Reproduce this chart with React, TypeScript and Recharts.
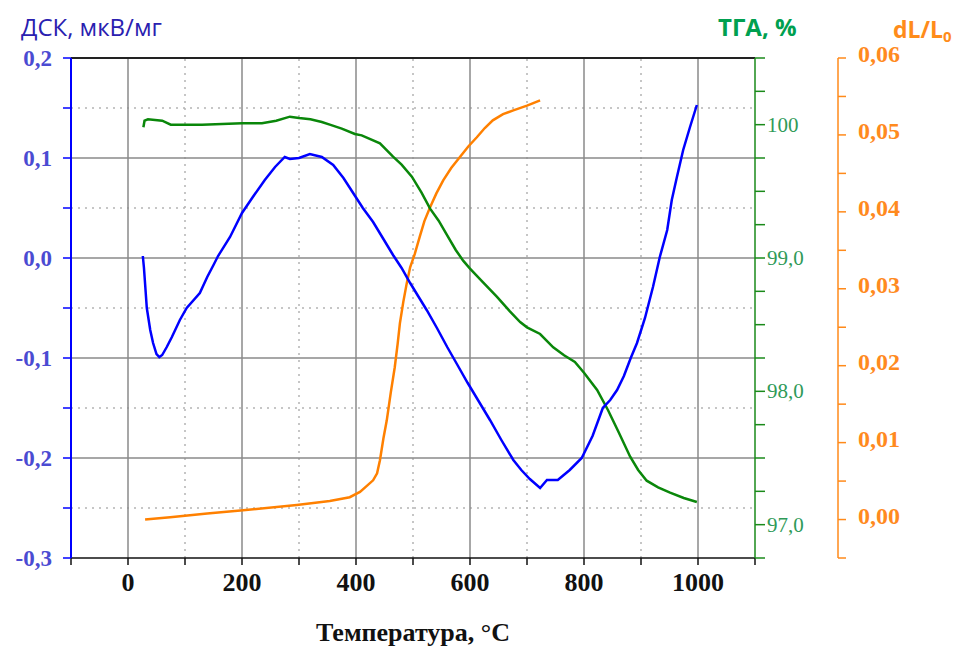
import React from 'react';
import { LineChart, Line, XAxis, YAxis, ReferenceLine } from 'recharts';

// DSC signal, µV/mg
const dscTemp = [26, 28, 30, 33, 39, 44, 50, 55, 60, 68, 77, 91, 103, 126, 139, 150, 158, 179, 200, 219, 240, 258, 275, 284, 300, 319, 340, 360, 378, 395, 412, 430, 447, 465, 480, 495, 510, 524, 542, 560, 578, 596, 615, 635, 655, 676, 690, 705, 723, 735, 754, 775, 796, 815, 833, 846, 858, 870, 882, 893, 907, 921, 933, 946, 954, 963, 974, 986, 998];
const dscValue = [0.002, -0.01, -0.026, -0.05, -0.072, -0.085, -0.096, -0.099, -0.097, -0.089, -0.079, -0.062, -0.05, -0.035, -0.019, -0.007, 0.002, 0.021, 0.045, 0.061, 0.078, 0.091, 0.101, 0.099, 0.1, 0.104, 0.101, 0.093, 0.08, 0.065, 0.05, 0.036, 0.02, 0.003, -0.01, -0.025, -0.039, -0.052, -0.07, -0.089, -0.107, -0.125, -0.143, -0.162, -0.182, -0.202, -0.212, -0.221, -0.23, -0.222, -0.222, -0.212, -0.2, -0.178, -0.15, -0.142, -0.132, -0.118, -0.1, -0.085, -0.06, -0.029, 0.001, 0.028, 0.058, 0.081, 0.108, 0.131, 0.153];

// TGA, mass %
const tgaTemp = [27, 29, 35, 60, 75, 100, 130, 200, 235, 260, 284, 300, 320, 340, 354, 375, 398, 410, 442, 465, 480, 498, 515, 530, 545, 560, 575, 588, 600, 620, 647, 670, 688, 700, 723, 746, 765, 784, 800, 823, 842, 860, 881, 895, 910, 930, 951, 975, 998];
const tgaValue = [99.98, 100.03, 100.04, 100.03, 100.0, 100.0, 100.0, 100.01, 100.01, 100.03, 100.06, 100.05, 100.04, 100.02, 100.0, 99.97, 99.93, 99.92, 99.86, 99.76, 99.7, 99.61, 99.49, 99.37, 99.28, 99.17, 99.06, 98.98, 98.92, 98.83, 98.71, 98.6, 98.52, 98.48, 98.43, 98.33, 98.27, 98.22, 98.14, 98.01, 97.86, 97.7, 97.51, 97.41, 97.33, 97.28, 97.24, 97.2, 97.17];

// dilatometry, dL/L0
const dilTemp = [30, 74, 139, 202, 296, 354, 389, 407, 421, 430, 437, 442, 448, 454, 461, 468, 473, 477, 483, 489, 495, 503, 512, 520, 530, 541, 553, 567, 582, 597, 612, 626, 640, 658, 676, 700, 723];
const dilValue = [0.0, 0.0003, 0.0008, 0.0012, 0.0019, 0.0024, 0.0029, 0.0036, 0.0045, 0.0051, 0.006, 0.0077, 0.0105, 0.0129, 0.0165, 0.0198, 0.0228, 0.0255, 0.0283, 0.0307, 0.0328, 0.0345, 0.0368, 0.0388, 0.0406, 0.0424, 0.0441, 0.0457, 0.0471, 0.0485, 0.0497, 0.0509, 0.0519, 0.0527, 0.0532, 0.0538, 0.0545];

const tempTicks = [-100, 0, 100, 200, 300, 400, 500, 600, 700, 800, 900, 1000, 1100];
const tempLabelValues = [0, 200, 400, 600, 800, 1000];
const tempLabels = ['0', '200', '400', '600', '800', '1000'];

const dscTicks = [-0.3, -0.25, -0.2, -0.15, -0.1, -0.05, 0, 0.05, 0.1, 0.15, 0.2];
const dscLabelValues = [-0.3, -0.2, -0.1, 0, 0.1, 0.2];
const dscLabels = ['-0,3', '-0,2', '-0,1', '0,0', '0,1', '0,2'];

const tgaTicks = [96.75, 97, 97.25, 97.5, 97.75, 98, 98.25, 98.5, 98.75, 99, 99.25, 99.5, 99.75, 100, 100.25, 100.5];
const tgaLabelValues = [97, 98, 99, 100];
const tgaLabels = ['97,0', '98,0', '99,0', '100'];

const dilTicks = [-0.005, 0, 0.005, 0.01, 0.015, 0.02, 0.025, 0.03, 0.035, 0.04, 0.045, 0.05, 0.055, 0.06];
const dilLabelValues = [0, 0.01, 0.02, 0.03, 0.04, 0.05, 0.06];
const dilLabels = ['0,00', '0,01', '0,02', '0,03', '0,04', '0,05', '0,06'];

const gridMajorX = [0, 200, 400, 600, 800, 1000];
const gridMinorX = [100, 300, 500, 700, 900];
const gridMajorY = [0.1, 0, -0.1, -0.2];
const gridMinorY = [0.15, 0.05, -0.05, -0.15, -0.25];

// ends of the temperature range and the top of the DSC range, for the frame line
const frameTemp = [-100, 1100];
const frameTop = 0.2;

const dscData = dscTemp.map((t, i) => ({ t, v: dscValue[i] }));
const tgaData = tgaTemp.map((t, i) => ({ t, v: tgaValue[i] }));
const dilData = dilTemp.map((t, i) => ({ t, v: dilValue[i] }));

const SERIF = '"Liberation Serif", "Times New Roman", serif';
const SANS = '"Open Sans", sans-serif';

function labelTick(values: number[], labels: string[], color: string, size: number, weight: string, dy: number) {
  return (props: any) => {
    const { x, y, payload, textAnchor } = props;
    const idx = values.findIndex(v => Math.abs(v - payload.value) < 1e-9);
    if (idx < 0) return <g />;
    return (
      <text x={x} y={y} dy={dy} textAnchor={textAnchor} fill={color} fontSize={size} fontWeight={weight} fontFamily={SERIF}>
        {labels[idx]}
      </text>
    );
  };
}

export default function App() {
  return (
    <div style={{ position: 'absolute', left: 0, top: 0, width: 957, height: 646, background: '#fff' }}>
      <LineChart width={957} height={646} margin={{ top: 58, right: 39, bottom: 0, left: 0 }}>
        {gridMinorX.map(v => (
          <ReferenceLine key={'mx' + v} x={v} yAxisId="dsc" stroke="#b4b4b4" strokeWidth={1.5} strokeDasharray="2 5" />
        ))}
        {gridMinorY.map(v => (
          <ReferenceLine key={'my' + v} y={v} yAxisId="dsc" stroke="#b4b4b4" strokeWidth={1.5} strokeDasharray="2 5" />
        ))}
        {gridMajorX.map(v => (
          <ReferenceLine key={'gx' + v} x={v} yAxisId="dsc" stroke="#8a8a8a" strokeWidth={1.5} />
        ))}
        {gridMajorY.map(v => (
          <ReferenceLine key={'gy' + v} y={v} yAxisId="dsc" stroke="#8a8a8a" strokeWidth={1.5} />
        ))}
        {/* top frame of the plot area */}
        <ReferenceLine
          yAxisId="dsc"
          segment={[{ x: frameTemp[0], y: frameTop }, { x: frameTemp[1], y: frameTop }]}
          ifOverflow="visible"
          stroke="#222"
          strokeWidth={2}
        />
        <XAxis
          dataKey="t"
          type="number"
          domain={[-100, 1100]}
          ticks={tempTicks}
          interval={0}
          allowDataOverflow
          height={88}
          tickSize={7}
          tickMargin={0}
          stroke="#111"
          strokeWidth={1.5}
          tick={labelTick(tempLabelValues, tempLabels, '#111', 26, 'bold', 26)}
        />
        <YAxis
          yAxisId="dsc"
          orientation="left"
          width={71}
          domain={[-0.3, 0.2]}
          ticks={dscTicks}
          interval={0}
          allowDataOverflow
          tickSize={8}
          tickMargin={11}
          axisLine={{ stroke: '#0000ff', strokeWidth: 2 }}
          tickLine={{ stroke: '#0000ff', strokeWidth: 1.5 }}
          tick={labelTick(dscLabelValues, dscLabels, '#4b4bd2', 23, 'bold', 8)}
        />
        <YAxis
          yAxisId="mass"
          orientation="right"
          width={83}
          domain={[96.75, 100.5]}
          ticks={tgaTicks}
          interval={0}
          allowDataOverflow
          tickSize={10}
          tickMargin={2}
          axisLine={{ stroke: '#1a8a1a', strokeWidth: 1.5 }}
          tickLine={{ stroke: '#1a8a1a', strokeWidth: 1.5 }}
          tick={labelTick(tgaLabelValues, tgaLabels, '#2f9a58', 21, 'normal', 7)}
        />
        <YAxis
          yAxisId="strain"
          orientation="right"
          width={80}
          domain={[-0.005, 0.06]}
          ticks={dilTicks}
          interval={0}
          allowDataOverflow
          tickSize={8}
          tickMargin={12}
          axisLine={{ stroke: '#ff8a1a', strokeWidth: 1.5 }}
          tickLine={{ stroke: '#ff8a1a', strokeWidth: 1.5 }}
          tick={labelTick(dilLabelValues, dilLabels, '#ff8a1e', 24, 'bold', 4)}
        />
        <Line data={dilData} dataKey="v" yAxisId="strain" type="linear" stroke="#ff8000" strokeWidth={2.5} dot={false} isAnimationActive={false} />
        <Line data={tgaData} dataKey="v" yAxisId="mass" type="linear" stroke="#0a870a" strokeWidth={2.5} dot={false} isAnimationActive={false} />
        <Line data={dscData} dataKey="v" yAxisId="dsc" type="linear" stroke="#0000ff" strokeWidth={2.5} dot={false} isAnimationActive={false} />
      </LineChart>
      <svg width={957} height={646} style={{ position: 'absolute', left: 0, top: 0, pointerEvents: 'none' }}>
        <text x={21} y={36} fill="#2a20b0" fontSize={24} fontFamily={SANS}>
          ДСК, мкВ/мг
        </text>
        <text x={718} y={36} fill="#00a050" fontSize={24} fontWeight="bold" fontFamily={SANS}>
          ТГА, %
        </text>
        <text x={893} y={38} fill="#ff8c1a" fontSize={23} fontWeight="bold" fontFamily={SANS}>
          dL/L<tspan fontSize={15} dy={4}>0</tspan>
        </text>
        <text x={413} y={641} textAnchor="middle" fill="#111" fontSize={26} fontWeight="bold" fontFamily={SERIF}>
          Температура, °C
        </text>
      </svg>
    </div>
  );
}
